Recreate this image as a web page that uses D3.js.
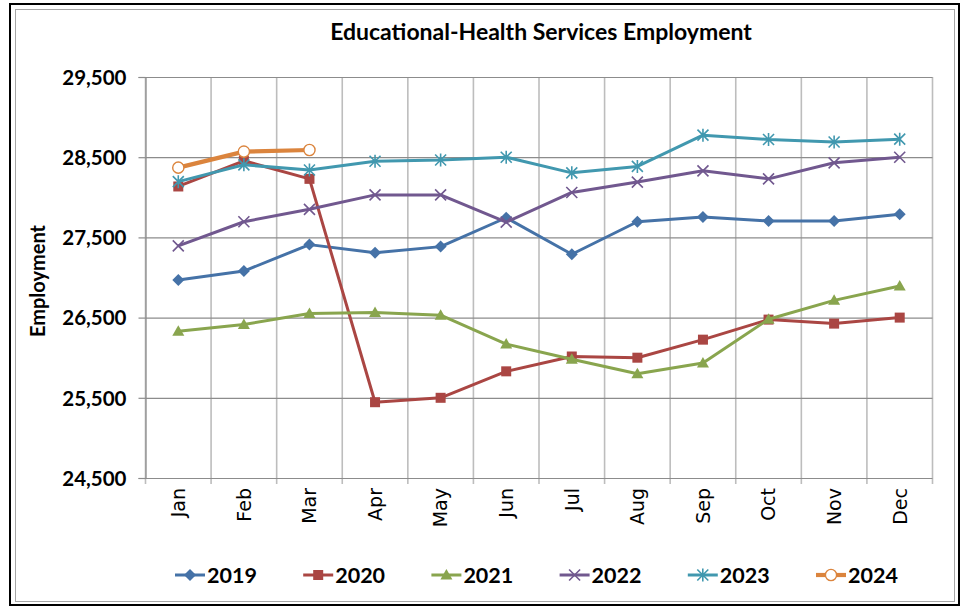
<!DOCTYPE html>
<html><head><meta charset="utf-8">
<script src="https://cdn.jsdelivr.net/npm/d3@7"></script>
<style>body{margin:0;background:#fff}</style>
</head><body><svg id="c" width="965" height="607"></svg>
<script>
const months = ["Jan","Feb","Mar","Apr","May","Jun","Jul","Aug","Sep","Oct","Nov","Dec"];
const years = ["2019","2020","2021","2022","2023","2024"];
const v2019 = [26970,27080,27410,27310,27385,27745,27290,27695,27755,27705,27705,27790];
const v2020 = [28135,28455,28230,25445,25500,25830,26015,26000,26225,26475,26425,26500];
const v2021 = [26330,26415,26550,26565,26530,26170,25980,25800,25935,26480,26715,26895];
const v2022 = [27395,27695,27850,28030,28030,27690,28060,28190,28330,28230,28430,28500];
const v2023 = [28195,28405,28340,28450,28465,28500,28305,28385,28775,28720,28690,28725];
const v2024 = [28370,28570,28590];
const yTicks = [24500,25500,26500,27500,28500,29500];
const title = "Educational-Health Services Employment";
const yTitle = "Employment";

const seriesValues = [v2019,v2020,v2021,v2022,v2023,v2024];
const colors = ["#4572A7","#AA4643","#89A54E","#71588F","#4198AF","#DB843D"];
const markerTypes = ["diamond","square","triangle","x","star","circle"];
const widths = [3,3,3,3,3,4.2];

const svg = d3.select("#c");
const L = 145.5, R = 932.5, T = 77, B = 478;

// frame
svg.append("rect").attr("x",10).attr("y",4).attr("width",949).attr("height",601)
  .attr("fill","#fff").attr("stroke","#000").attr("stroke-width",2);
svg.append("rect").attr("x",15.5).attr("y",9.5).attr("width",939).attr("height",592)
  .attr("fill","none").attr("stroke","#a6a6a6").attr("stroke-width",1);

const x = d3.scaleBand().domain(months).range([L,R]).padding(0);
const cx = m => x(m) + x.bandwidth()/2;
const y = d3.scaleLinear().domain([24500,29500]).range([B,T]);

// vertical gridlines at category boundaries (with ticks below axis)
const bounds = months.map(m => x(m)).concat([x(months[months.length-1]) + x.bandwidth()]);
svg.append("g").selectAll("line").data(bounds).join("line")
  .attr("x1",d=>d).attr("x2",d=>d).attr("y1",T).attr("y2",B+6)
  .attr("stroke","#bdbdbd").attr("stroke-width",1.6);

// horizontal gridlines
const gy = svg.append("g").attr("transform",`translate(${L},0)`)
  .call(d3.axisLeft(y).tickValues(yTicks).tickSize(-(R-L)).tickFormat(""));
gy.select(".domain").remove();
gy.selectAll("line").attr("stroke","#8c8c8c").attr("stroke-width",1.2);

// y axis line + ticks + labels
const ya = svg.append("g").attr("transform",`translate(${L},0)`)
  .call(d3.axisLeft(y).tickValues(yTicks).tickSize(7).tickPadding(12).tickFormat(d3.format(",")));
ya.select(".domain").attr("stroke","#8c8c8c").attr("stroke-width",1.2);
ya.selectAll(".tick line").attr("stroke","#8c8c8c").attr("stroke-width",1.2);
ya.selectAll("text").style("font-family","Lato, 'Open Sans', sans-serif").style("font-weight","bold")
  .style("font-size","20.5px").attr("fill","#000").attr("dy","0.36em");

// x axis labels
const xa = svg.append("g").attr("transform",`translate(0,${B})`)
  .call(d3.axisBottom(x).tickSize(0).tickPadding(0));
xa.select(".domain").remove();
xa.selectAll("text").style("font-family","'DejaVu Sans', Verdana, sans-serif")
  .style("font-size","19px").attr("fill","#000")
  .attr("text-anchor","end").attr("transform","translate(0,10) rotate(-90)")
  .attr("x",0).attr("y",0).attr("dy","0.36em");

// title
svg.append("text").attr("x",541).attr("y",40).attr("text-anchor","middle")
  .style("font-family","Lato, 'Open Sans', sans-serif").style("font-weight","bold")
  .style("font-size","23px").attr("fill","#000").text(title);

// y title
svg.append("text").attr("transform","translate(45,281) rotate(-90)").attr("text-anchor","middle")
  .style("font-family","Lato, 'Open Sans', sans-serif").style("font-weight","bold")
  .style("font-size","20px").attr("fill","#000").text(yTitle);

function marker(g, type, color, px, py) {
  if (type === "diamond") {
    g.append("path").attr("d",`M${px},${py-6}L${px+6},${py}L${px},${py+6}L${px-6},${py}Z`).attr("fill",color);
  } else if (type === "square") {
    g.append("rect").attr("x",px-5).attr("y",py-5).attr("width",10).attr("height",10).attr("fill",color);
  } else if (type === "triangle") {
    g.append("path").attr("d",`M${px},${py-6}L${px+6},${py+4.5}L${px-6},${py+4.5}Z`).attr("fill",color);
  } else if (type === "x") {
    g.append("path").attr("d",`M${px-5.5},${py-5.5}L${px+5.5},${py+5.5}M${px-5.5},${py+5.5}L${px+5.5},${py-5.5}`)
      .attr("stroke",color).attr("stroke-width",1.6).attr("fill","none");
  } else if (type === "star") {
    g.append("path").attr("d",`M${px-5.5},${py-5.5}L${px+5.5},${py+5.5}M${px-5.5},${py+5.5}L${px+5.5},${py-5.5}M${px},${py-6.5}L${px},${py+6.5}`)
      .attr("stroke",color).attr("stroke-width",1.6).attr("fill","none");
  } else if (type === "circle") {
    g.append("circle").attr("cx",px).attr("cy",py).attr("r",5.6).attr("fill","#fff")
      .attr("stroke",color).attr("stroke-width",1.4);
  }
}

const line = d3.line().x((d,i)=>cx(months[i])).y(d=>y(d));
seriesValues.forEach((vals,si) => {
  const g = svg.append("g");
  g.append("path").datum(vals).attr("d",line).attr("fill","none")
    .attr("stroke",colors[si]).attr("stroke-width",widths[si]).attr("stroke-linejoin","round");
  vals.forEach((v,i) => marker(g, markerTypes[si], colors[si], cx(months[i]), y(v)));
});

// legend
const legX0 = 175, legStep = 128.2, legY = 575;
years.forEach((yr,i) => {
  const g = svg.append("g");
  const lx = legX0 + i*legStep;
  g.append("line").attr("x1",lx).attr("x2",lx+30).attr("y1",legY).attr("y2",legY)
    .attr("stroke",colors[i]).attr("stroke-width",widths[i]);
  marker(g, markerTypes[i], colors[i], lx+15, legY);
  g.append("text").attr("x",lx+32).attr("y",legY).attr("dy","0.36em")
    .style("font-family","Lato, 'Open Sans', sans-serif").style("font-weight","bold")
    .style("font-size","21.5px").attr("fill","#000").text(yr);
});
</script></body></html>
